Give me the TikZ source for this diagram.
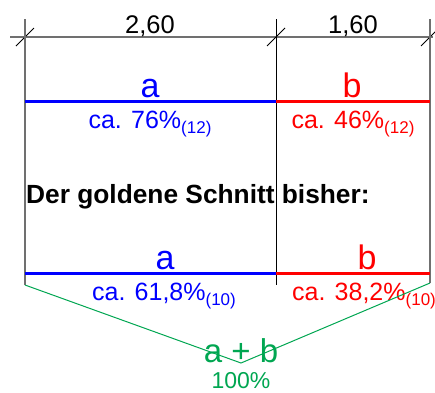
\documentclass[tikz,border=0pt]{standalone}
\usepackage{fontspec}
\setmainfont{Liberation Sans}
\usepackage{tikz}
\usetikzlibrary{calc,positioning}
\definecolor{gsblue}{HTML}{0000FF}
\definecolor{gsred}{HTML}{FF0000}
\definecolor{gsgreen}{HTML}{00A651}
\definecolor{gsgray}{HTML}{707070}
\newcommand{\idx}[1]{\raisebox{-5pt}{\fontsize{17}{18}\selectfont #1}}

\begin{document}
\begin{tikzpicture}[x=1pt, y=-1pt,
  dimline/.style={draw=gsgray, line width=1.3pt},
  dimtick/.style={draw=black, line width=1pt},
  border/.style={draw=gsgray, line width=1.2pt},
  divider/.style={draw=black, line width=1pt},
  partA/.style={draw=gsblue, line width=3pt},
  partB/.style={draw=gsred, line width=3pt},
  sumline/.style={draw=gsgreen, line width=1pt},
  measure/.style={anchor=base, inner sep=0pt, font=\fontsize{25.5}{28}\selectfont},
  letter/.style={anchor=base, inner sep=0pt, font=\fontsize{34}{36}\selectfont},
  share/.style={anchor=base, inner sep=0pt, font=\fontsize{25}{28}\selectfont},
  title/.style={anchor=base west, inner sep=0pt, font=\fontsize{26.3}{28}\selectfont\bfseries},
]
  \useasboundingbox (0,0) rectangle (435,392);

  % Bemassung ---------------------------------------------------------------
  \coordinate (dimstart) at (10,37);
  \coordinate (dimend) at (433,37);
  \coordinate (leftdim) at (25,37);
  \coordinate (middim) at (276,37);
  \coordinate (rightdim) at (430,37);
  \draw[dimline] (dimstart) -- (dimend);
  \foreach \p in {leftdim, middim, rightdim}
    \draw[dimtick] ($(\p)+(-9,9)$) -- ($(\p)+(9,-9)$);
  \node[measure] (lenA) at (150,33) {2,60};
  \node[measure] (lenB) at (353,33) {1,60};

  % Hilfslinien -------------------------------------------------------------
  \coordinate (lefttop) at (25,19);
  \coordinate (leftbot) at (25,285);
  \coordinate (midtop) at (276,19);
  \coordinate (midbot) at (276,285);
  \coordinate (righttop) at (430,19);
  \coordinate (rightbot) at (430,283);
  \draw[border] (lefttop) -- (leftbot);
  \draw[divider] (midtop) -- (midbot);
  \draw[border] (righttop) -- (rightbot);

  % neue Teilung ------------------------------------------------------------
  \coordinate (newleft) at (25,101);
  \coordinate (newmid) at (276,101);
  \coordinate (newright) at (430,101);
  \draw[partA] (newleft) -- (newmid);
  \draw[partB] (newmid) -- (newright);
  \node[letter, text=gsblue] (newa) at (150,97) {a};
  \node[letter, text=gsred] (newb) at (352,97) {b};
  \node[share, text=gsblue] (newsharea) at (150,128) {ca. 76\%\idx{(12)}};
  \node[share, text=gsred] (newshareb) at (353,128) {ca. 46\%\idx{(12)}};

  \node[title] (heading) at (26,203) {Der goldene Schnitt bisher:};

  % bisherige Teilung -------------------------------------------------------
  \coordinate (oldleft) at (25,273);
  \coordinate (oldmid) at (276,273);
  \coordinate (oldright) at (430,273);
  \draw[partA] (oldleft) -- (oldmid);
  \draw[partB] (oldmid) -- (oldright);
  \node[letter, text=gsblue] (olda) at (165,269) {a};
  \node[letter, text=gsred] (oldb) at (367,269) {b};
  \node[share, text=gsblue] (oldsharea) at (164,300) {ca. 61,8\%\idx{(10)}};
  \node[share, text=gsred] (oldshareb) at (364,300) {ca. 38,2\%\idx{(10)}};

  % Summe -------------------------------------------------------------------
  \coordinate (apex) at (241,363);
  \draw[sumline] (leftbot) -- (apex) -- (rightbot);
  \node[letter, text=gsgreen, font=\fontsize{33}{34}\selectfont] (total) at (241,362) {a + b};
  \node[share, text=gsgreen, font=\fontsize{23}{26}\selectfont] (totalshare) at (241,388) {100\%};
\end{tikzpicture}
\end{document}
